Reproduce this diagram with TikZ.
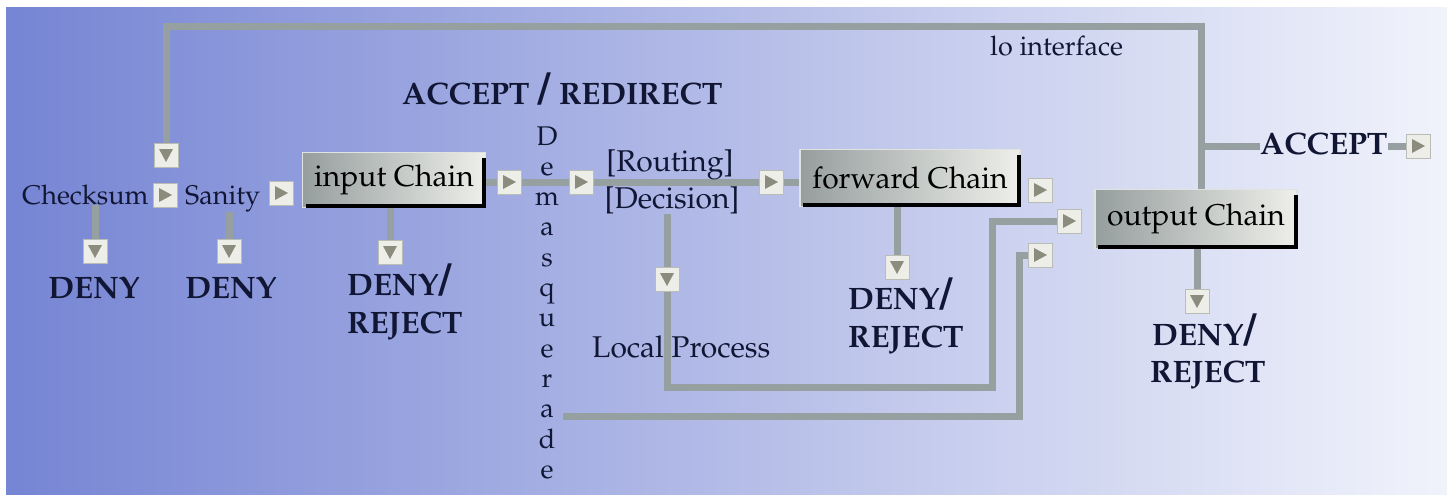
\documentclass[tikz,border=0pt]{standalone}
\usepackage[T1]{fontenc}
\usepackage{mathpazo}
\usetikzlibrary{calc}

\pgfdeclarelayer{back}
\pgfdeclarelayer{wires}
\pgfsetlayers{back,wires,main}

\definecolor{bgL}{RGB}{118,133,212}
\definecolor{bgR}{RGB}{241,243,251}
\definecolor{wirec}{RGB}{150,160,160}
\definecolor{ink}{RGB}{16,22,52}
\definecolor{btnfill}{RGB}{238,238,232}
\definecolor{btnedge}{RGB}{186,188,182}
\definecolor{tric}{RGB}{140,140,126}
\definecolor{chainL}{RGB}{150,158,158}
\definecolor{chainR}{RGB}{238,239,234}
\definecolor{chainHi}{RGB}{224,228,224}

\newcommand{\bigslash}{{\fontsize{44}{44}\selectfont\bfseries\itshape /}}

\tikzset{
  wire/.style={draw=wirec, line width=7pt},
  btn/.style={rectangle, fill=btnfill, draw=btnedge, line width=1pt,
    minimum size=24pt, inner sep=0pt},
  rbtn/.style={btn, path picture={
    \fill[tric] ($(path picture bounding box.center)+(-6,-7)$)
      -- ++(13,7) -- ++(-13,7) -- cycle;}},
  dbtn/.style={btn, path picture={
    \fill[tric] ($(path picture bounding box.center)+(-7,-6)$)
      -- ++(14,0) -- ++(-7,13) -- cycle;}},
  lbl/.style={text=ink, inner sep=0pt, font=\fontsize{27}{30}\selectfont},
  lblw/.style={lbl, font=\fontsize{30}{32}\selectfont},
  big/.style={text=ink, inner sep=0pt,
    font=\fontsize{31}{38}\selectfont\bfseries},
  chain/.style={rectangle, inner sep=0pt, left color=chainL, right color=chainR,
    draw=chainHi, line width=1.5pt, text=black,
    font=\fontsize{30}{32}\selectfont},
}

\begin{document}
\begin{tikzpicture}[x=1pt, y=-1pt]
\useasboundingbox (0,0) rectangle (1452,495);

% background
\begin{pgfonlayer}{back}
  \fill[white] (0,0) rectangle (1452,495);
  \shade[left color=bgL, right color=bgR] (6,8) rectangle (1447,495);
\end{pgfonlayer}

% chains
\node[chain, minimum width=183pt, minimum height=55pt] (inp) at (394,180) {input Chain};
\node[chain, minimum width=220pt, minimum height=57pt] (fwd) at (910,178) {forward Chain};
\node[chain, minimum width=202pt, minimum height=59pt] (out) at (1196,219) {output Chain};
\foreach \n in {inp,fwd,out}
  \draw[line width=4pt, black]
    ($(\n.north east)+(-2,6)$) -- ($(\n.south east)+(-2,-2)$) -- ($(\n.south west)+(4,-2)$);

% checks before the input chain
\node[lbl, anchor=base west] (ck) at (22,204) {Checksum};
\node[rbtn] (ckb) at (165,195) {};
\node[dbtn] (lo) at (166,155) {};
\node[lbl, anchor=base west] (sn) at (185,204) {Sanity};
\node[rbtn] (snb) at (281,193) {};

\node[dbtn] (ckd) at (95,251) {};
\node[big, anchor=base] (ckdt) at (94,298) {DENY};
\node[dbtn] (snd) at (229,251) {};
\node[big, anchor=base] (sndt) at (231,298) {DENY};

\node[dbtn] (ind) at (390,252) {};
\node[big, anchor=base west] (indt) at (347,295) {DENY\bigslash};
\node[big, anchor=base west] (indr) at (347,333) {REJECT};

% accept / redirect and demasquerade
\node[big, anchor=base west] (ar) at (402,105) {ACCEPT \bigslash{} REDIRECT};
\foreach \c [count=\i from 0] in {D,e,m,a,s,q,u,e,r,a,d,e}
  \node[lbl, anchor=base] (dm\i) at (547,145+\i*30.3) {\c};

\node[rbtn] (b1) at (509,182) {};
\node[rbtn] (b2) at (581,182) {};
\node[rbtn] (b3) at (771,182) {};
\node[lblw, anchor=base] (rt) at (670,171) {[Routing]};
\node[lblw, anchor=base] (dec) at (672,208) {[Decision]};

\node[dbtn] (lp) at (667,279) {};
\node[lblw, anchor=base west] (lpt) at (592,357) {Local Process};

% forward chain outputs
\node[dbtn] (fwdd) at (897,267) {};
\node[big, anchor=base west] (fwdt) at (848,309) {DENY\bigslash};
\node[big, anchor=base west] (fwdr) at (848,347) {REJECT};
\node[rbtn] (fb) at (1040,190) {};
\node[rbtn] (ob1) at (1069,221) {};
\node[rbtn] (ob2) at (1040,255) {};

% output chain outputs
\node[dbtn] (outd) at (1197,301) {};
\node[big, anchor=base west] (outt) at (1152,345) {DENY\bigslash};
\node[big, anchor=base west] (outr) at (1150,382) {REJECT};

\node[lbl, anchor=base west] (lot) at (990,56) {lo interface};
\node[big, anchor=base west] (acc) at (1260,154) {ACCEPT};
\node[rbtn] (accb) at (1418,146) {};

% routing points of the connectors
\coordinate (lt) at (166,27);
\coordinate (rtp) at (1201,27);
\coordinate (aj) at (1201,146);
\coordinate (l1) at (992,387);
\coordinate (mq) at (563,416);
\coordinate (l2) at (1019,416);

\begin{pgfonlayer}{wires}
  \draw[wire] (lo.north) -- (lt) -- (rtp) -- (rtp |- out.north);
  \draw[wire] (aj) -- (aj -| acc.west);
  \draw[wire] (acc.east |- accb) -- (accb.west);

  \draw[wire] (ckd |- ck.south) -- (ckd.north);
  \draw[wire] (snd |- sn.south) -- (snd.north);
  \draw[wire] (ind |- inp.south) -- (ind.north);

  \draw[wire] (inp.east |- b1) -- (b1.west);
  \draw[wire] (b1.east) -- (b2.west);
  \draw[wire] (b2.east) -- (b3.west);
  \draw[wire] (b3.east) -- (fwd.west |- b3);

  \draw[wire] (lp |- dec.south) -- (lp.north);
  \draw[wire] (lp.south) |- (l1) |- (ob1.west);
  \draw[wire] (mq) -- (l2) |- (ob2.west);

  \draw[wire] (fwdd |- fwd.south) -- (fwdd.north);
  \draw[wire] (outd |- out.south) -- (outd.north);
\end{pgfonlayer}
\end{tikzpicture}
\end{document}
